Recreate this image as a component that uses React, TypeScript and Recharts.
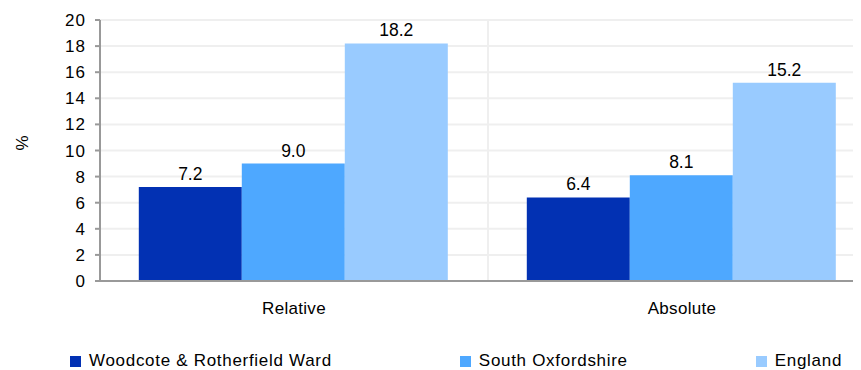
import React from "react";
import {
  BarChart,
  Bar,
  XAxis,
  YAxis,
  CartesianGrid,
  LabelList,
} from "recharts";

const categories = ["Relative", "Absolute"];
const woodcote = [7.2, 6.4];
const southOxon = [9.0, 8.1];
const england = [18.2, 15.2];
const yTicks = [0, 2, 4, 6, 8, 10, 12, 14, 16, 18, 20];

const seriesList = [
  { key: "woodcote", name: "Woodcote & Rotherfield Ward", color: "#0231B3" },
  { key: "southOxon", name: "South Oxfordshire", color: "#4EA8FF" },
  { key: "england", name: "England", color: "#99CBFF" },
];

const data = categories.map((name, i) => ({
  name,
  woodcote: woodcote[i],
  southOxon: southOxon[i],
  england: england[i],
}));

const font = '"Liberation Sans", Arial, sans-serif';

const App: React.FC = () => {
  return (
    <div
      style={{
        position: "relative",
        width: 861,
        height: 370,
        overflow: "hidden",
        margin: "-8px 0 0 -8px",
        fontFamily: font,
        background: "#fff",
      }}
    >
      <BarChart
        width={880}
        height={330}
        data={data}
        margin={{ top: 20, right: 4, left: 0, bottom: 0 }}
        barCategoryGap="10%"
        barGap={0}
        style={{ fontFamily: font }}
      >
        <CartesianGrid
          stroke="#efefef"
          strokeWidth={2}
          verticalCoordinatesGenerator={({ offset }: any) => [
            offset.left + offset.width / 2,
          ]}
        />
        <XAxis
          dataKey="name"
          height={49}
          tickSize={0}
          tickMargin={21}
          axisLine={{ stroke: "#999", strokeWidth: 2 }}
          tick={{ fill: "#000", fontSize: 17, letterSpacing: 0.3 }}
        />
        <YAxis
          width={100}
          domain={[0, 20]}
          ticks={yTicks}
          interval={0}
          tickSize={5}
          tickMargin={9}
          axisLine={{ stroke: "#999", strokeWidth: 2 }}
          tickLine={{ stroke: "#999", strokeWidth: 2 }}
          tick={{ fill: "#000", fontSize: 17, letterSpacing: 1 }}
          label={{
            value: "%",
            angle: -90,
            position: "insideLeft",
            offset: 22,
            fill: "#000",
            fontSize: 17,
          }}
        />
        {seriesList.map((s) => (
          <Bar
            key={s.key}
            dataKey={s.key}
            name={s.name}
            fill={s.color}
            isAnimationActive={false}
          >
            <LabelList
              dataKey={s.key}
              position="top"
              offset={7}
              fill="#000"
              fontSize={17.5}
              formatter={(v: any) => Number(v).toFixed(1)}
            />
          </Bar>
        ))}
      </BarChart>
      <div
        style={{
          position: "absolute",
          top: 352,
          left: 70,
          display: "flex",
          gap: 128,
          fontSize: 17,
          letterSpacing: 0.7,
          lineHeight: "18px",
          whiteSpace: "nowrap",
        }}
      >
        {seriesList.map((s) => (
          <div key={s.key} style={{ display: "flex", alignItems: "center" }}>
            <span
              style={{
                display: "inline-block",
                width: 11,
                height: 11,
                background: s.color,
                marginRight: 8,
              }}
            />
            <span>{s.name}</span>
          </div>
        ))}
      </div>
    </div>
  );
};

export default App;
